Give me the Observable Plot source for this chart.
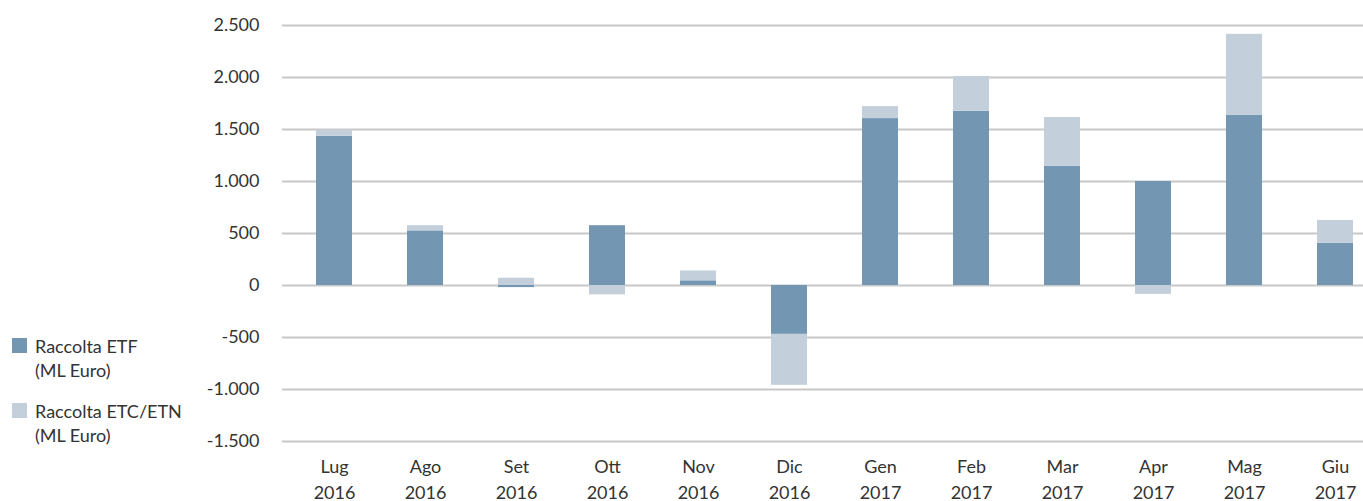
<!DOCTYPE html>
<html><head><meta charset="utf-8">
<script src="https://cdn.jsdelivr.net/npm/d3@7"></script>
<script src="https://cdn.jsdelivr.net/npm/@observablehq/plot@0.6"></script>
<style>
body{margin:0;background:#fff;font-family:Lato,"Open Sans",sans-serif;}
#wrap{position:relative;width:1363px;height:501px;overflow:hidden;}
#legend{position:absolute;left:12px;top:334px;font-size:18px;color:#333;}
.item{display:flex;align-items:flex-start;margin-bottom:17px;}
.sw{width:15px;height:15px;margin-right:8px;margin-top:4px;flex:none;}
.lbl{line-height:24px;}
</style></head><body>
<div id="wrap"><div id="chart"></div><div id="legend"></div></div>
<script>
const months = ["Lug","Ago","Set","Ott","Nov","Dic","Gen","Feb","Mar","Apr","Mag","Giu"];
const years = ["2016","2016","2016","2016","2016","2016","2017","2017","2017","2017","2017","2017"];
const etf = [1435, 525, -20, 575, 45, -470, 1605, 1675, 1145, 1000, 1635, 405];
const etc = [60, 50, 70, -90, 95, -490, 115, 335, 470, -85, 780, 220];
const seriesNames = ["Raccolta ETF\n(ML Euro)", "Raccolta ETC/ETN\n(ML Euro)"];
const seriesColors = ["#7396b2", "#c3d0dc"];
const yTicks = [-1500, -1000, -500, 0, 500, 1000, 1500, 2000, 2500];

const keys = months.map((m, i) => m + "\n" + years[i]);
const data = keys.flatMap((k, i) => [
  {key: k, serie: seriesNames[0], value: etf[i]},
  {key: k, serie: seriesNames[1], value: etc[i]}
]);
const fmt = d => d3.format(",")(d).replace(/,/g, ".").replace("\u2212", "-");

const chart = Plot.plot({
  width: 1363, height: 501,
  marginLeft: 282, marginRight: 0, marginTop: 25, marginBottom: 60,
  style: {fontFamily: "Lato, 'Open Sans', sans-serif", fontSize: "18px", color: "#333", background: "white"},
  x: {domain: keys, range: [284, 1385], paddingInner: 0.6, paddingOuter: 0.3, label: null},
  y: {domain: [-1500, 2500], label: null},
  color: {domain: seriesNames, range: seriesColors},
  marks: [
    Plot.gridY(yTicks, {stroke: "#c8c8c8", strokeOpacity: 1, strokeWidth: 2}),
    Plot.barY(data, Plot.stackY({x: "key", y: "value", fill: "serie"})),
    Plot.axisY(yTicks, {tickSize: 0, tickPadding: 23, tickFormat: fmt, fontSize: 18, label: null}),
    Plot.axisX({tickSize: 0, tickPadding: 14, lineHeight: 1.4, fontSize: 18, label: null})
  ]
});
document.getElementById("chart").appendChild(chart);

const legend = document.getElementById("legend");
seriesNames.forEach((s, i) => {
  const item = document.createElement("div");
  item.className = "item";
  const sw = document.createElement("div");
  sw.className = "sw";
  sw.style.background = seriesColors[i];
  const lbl = document.createElement("div");
  lbl.className = "lbl";
  lbl.innerHTML = s.split("\n").join("<br>");
  item.appendChild(sw); item.appendChild(lbl);
  legend.appendChild(item);
});
</script>
</body></html>
